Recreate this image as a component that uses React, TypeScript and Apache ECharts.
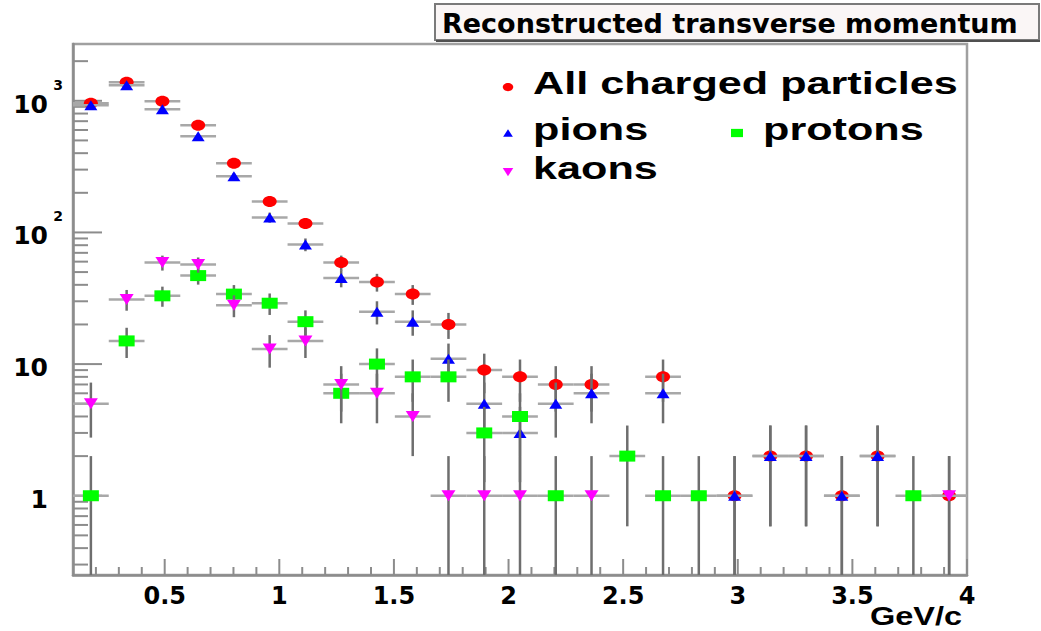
import React, { useEffect, useRef } from 'react';
import * as echarts from 'echarts';

// ---- Data (histogram: 25 bins from 0.1 to 4.0 GeV/c) ----
const binCenters = [0.178, 0.334, 0.49, 0.646, 0.802, 0.958, 1.114, 1.27, 1.426, 1.582, 1.738, 1.894, 2.05, 2.206, 2.362, 2.518, 2.674, 2.83, 2.986, 3.142, 3.298, 3.454, 3.61, 3.766, 3.922];
const binWidth = 0.156;

const allCharged = [957, 1383, 990, 652, 335, 172, 117, 59, 42, 34, 20, 9, 8, 7, 7, null, 8, null, 1, 2, 2, 1, 2, null, 1];
const pions = [925, 1313, 861, 537, 267, 130, 81, 45, 25, 21, 11, 5, 3, 5, 6, null, 6, null, 1, 2, 2, 1, 2, null, null];
const protons = [1, 15, 33, 47, 34, 29, 21, 6, 10, 8, 8, 3, 4, 1, null, 2, 1, 1, null, null, null, null, null, 1, null];
const kaons = [5, 31, 59, 57, 28, 13, 15, 7, 6, 4, 1, 1, 1, null, 1, null, null, null, null, null, null, null, null, null, 1];

const xMajorTicks = [0.5, 1, 1.5, 2, 2.5, 3, 3.5, 4];
const xMinorTicks = [0.2, 0.3, 0.4, 0.6, 0.7, 0.8, 0.9, 1.1, 1.2, 1.3, 1.4, 1.6, 1.7, 1.8, 1.9, 2.1, 2.2, 2.3, 2.4, 2.6, 2.7, 2.8, 2.9, 3.1, 3.2, 3.3, 3.4, 3.6, 3.7, 3.8, 3.9];
const yMajorTicks = [1, 10, 100, 1000];
const yMinorTicks = [0.3, 0.4, 0.5, 0.6, 0.7, 0.8, 0.9, 2, 3, 4, 5, 6, 7, 8, 9, 20, 30, 40, 50, 60, 70, 80, 90, 200, 300, 400, 500, 600, 700, 800, 900, 2000];

const X_MIN = 0.1;
const X_MAX = 4.0;
const Y_MIN = 0.25;
const Y_MAX = 2700;

const titleText = 'Reconstructed transverse momentum';
const xAxisTitle = 'GeV/c';

const particles = [
  { name: 'All charged particles', values: allCharged, color: '#ff0000', marker: 'circle' },
  { name: 'pions', values: pions, color: '#0000ff', marker: 'triangle' },
  { name: 'protons', values: protons, color: '#00ff00', marker: 'square' },
  { name: 'kaons', values: kaons, color: '#ff00ff', marker: 'invTriangle' },
];

function markerEl(kind: string, cx: number, cy: number, color: string, s: number) {
  const style = { fill: color };
  if (kind === 'circle') {
    return { type: 'ellipse', shape: { cx, cy, rx: 7 * s, ry: 5.5 * s }, style };
  }
  if (kind === 'triangle') {
    return { type: 'polygon', shape: { points: [[cx - 6.5 * s, cy + 5 * s], [cx + 6.5 * s, cy + 5 * s], [cx, cy - 5 * s]] }, style };
  }
  if (kind === 'invTriangle') {
    return { type: 'polygon', shape: { points: [[cx - 7 * s, cy - 5.5 * s], [cx + 7 * s, cy - 5.5 * s], [cx, cy + 5.5 * s]] }, style };
  }
  return { type: 'rect', shape: { x: cx - 8 * s, y: cy - 5.5 * s, width: 16 * s, height: 11 * s }, style };
}

export default function App() {
  const ref = useRef<HTMLDivElement>(null);

  useEffect(() => {
    const chart = echarts.init(ref.current as HTMLDivElement, null, { renderer: 'svg' });

    const tickData: number[][] = [];
    xMajorTicks.forEach((v) => tickData.push([v, Y_MIN, 16, 0]));
    xMinorTicks.forEach((v) => tickData.push([v, Y_MIN, 8, 0]));
    yMajorTicks.forEach((v) => tickData.push([X_MIN, v, 29, 1]));
    yMinorTicks.forEach((v) => tickData.push([X_MIN, v, 15, 1]));

    const tickSeries = {
      type: 'custom',
      name: 'ticks',
      silent: true,
      z: 1,
      data: tickData,
      encode: { x: 0, y: 1 },
      renderItem: (params: any, api: any) => {
        const p = api.coord([api.value(0), api.value(1)]);
        const len = api.value(2);
        const dir = api.value(3);
        const shape = dir === 0
          ? { x1: p[0], y1: p[1], x2: p[0], y2: p[1] - len }
          : { x1: p[0], y1: p[1], x2: p[0] + len, y2: p[1] };
        return { type: 'line', shape, style: { stroke: '#8c8c8c', lineWidth: 2 } };
      },
    };

    const dataSeries = particles.map((pt, idx) => ({
      type: 'custom',
      name: pt.name,
      z: 2 + idx,
      data: binCenters
        .map((x, i) => (pt.values[i] == null ? null : [x, pt.values[i] as number]))
        .filter((d) => d !== null),
      encode: { x: 0, y: 1 },
      renderItem: (params: any, api: any) => {
        const x = api.value(0);
        const v = api.value(1);
        const err = Math.sqrt(v);
        const c = api.coord([x, v]);
        const top = api.coord([x, v + err]);
        const cs = params.coordSys;
        const bottomPx = cs.y + cs.height;
        const lowV = v - err;
        const low = lowV > Y_MIN ? api.coord([x, lowV])[1] : bottomPx;
        const left = api.coord([x - binWidth / 2, v])[0];
        const right = api.coord([x + binWidth / 2, v])[0];
        return {
          type: 'group',
          children: [
            { type: 'line', shape: { x1: left, y1: c[1], x2: right, y2: c[1] }, style: { stroke: '#a8a8a8', lineWidth: 2.5 } },
            { type: 'line', shape: { x1: c[0], y1: top[1], x2: c[0], y2: low }, style: { stroke: '#6e6e6e', lineWidth: 2.5 } },
            markerEl(pt.marker, c[0], c[1], pt.color, 1),
          ],
        };
      },
    }));

    const legendFont = 'bold 32px "Liberation Sans", Arial, sans-serif';
    const legendRows = [
      { p: particles[0], mx: 508, my: 87, tx: 533 },
      { p: particles[1], mx: 508, my: 133, tx: 533 },
      { p: particles[2], mx: 737, my: 133, tx: 763 },
      { p: particles[3], mx: 508, my: 172, tx: 533 },
    ];
    const legendGraphics: any[] = [];
    legendRows.forEach((r) => {
      legendGraphics.push({ ...markerEl(r.p.marker, r.mx, r.my, r.p.color, 0.75), z: 100 });
      legendGraphics.push({
        type: 'text',
        x: r.tx,
        y: r.my - 4,
        scaleX: 1.35,
        z: 100,
        style: { text: r.p.name, font: legendFont, fill: '#000', align: 'left', verticalAlign: 'middle' },
      });
    });

    const option: any = {
      animation: false,
      backgroundColor: '#ffffff',
      grid: {
        left: 73,
        right: 74,
        top: 44,
        bottom: 56,
        show: true,
        borderColor: '#a0a0a0',
        borderWidth: 2.5,
        backgroundColor: 'transparent',
      },
      xAxis: {
        type: 'value',
        min: X_MIN,
        max: X_MAX,
        splitNumber: 8,
        axisLine: { show: true, onZero: false, lineStyle: { color: '#8c8c8c', width: 2.5 } },
        axisTick: { show: false },
        splitLine: { show: false },
        axisLabel: {
          showMinLabel: false,
          margin: 9,
          color: '#000',
          fontFamily: '"DejaVu Sans", sans-serif',
          fontWeight: 'bold',
          fontSize: 24,
          formatter: (v: number) => String(v),
        },
      },
      yAxis: {
        type: 'log',
        logBase: 10,
        min: Y_MIN,
        max: Y_MAX,
        axisLine: { show: true, lineStyle: { color: '#8c8c8c', width: 2.5 } },
        axisTick: { show: false },
        splitLine: { show: false },
        axisLabel: {
          showMinLabel: false,
          showMaxLabel: false,
          margin: 10,
          formatter: (v: number) => {
            const lg = Math.log10(v);
            const e = Math.round(lg);
            if (Math.abs(lg - e) > 1e-6) return '';
            const main = e === 0 ? '1' : '10';
            const sup = e >= 2 ? String(e) : ' ';
            return '{b|' + main + '}{s|' + sup + '}';
          },
          rich: {
            b: { fontFamily: '"DejaVu Sans", sans-serif', fontWeight: 'bold', fontSize: 25, color: '#000', verticalAlign: 'bottom', padding: [0, 0, 7, 0] },
            s: { fontFamily: '"DejaVu Sans", sans-serif', fontWeight: 'bold', fontSize: 14, color: '#000', verticalAlign: 'bottom', width: 13, padding: [0, 0, 32, 2] },
          },
        },
      },
      graphic: [
        {
          type: 'rect',
          z: 100,
          shape: { x: 435, y: 4, width: 604, height: 36 },
          style: { fill: '#faf6f6', stroke: '#7a7a7a', lineWidth: 2 },
        },
        {
          type: 'line',
          z: 101,
          shape: { x1: 436, y1: 41, x2: 1040, y2: 41 },
          style: { stroke: '#505050', lineWidth: 2 },
        },
        {
          type: 'text',
          z: 102,
          x: 442,
          y: 23,
          style: { text: titleText, font: 'bold 27px "DejaVu Sans", sans-serif', fill: '#000', align: 'left', verticalAlign: 'middle' },
        },
        {
          type: 'text',
          z: 102,
          x: 962,
          y: 616,
          scaleX: 1.3,
          style: { text: xAxisTitle, font: 'bold 25px "Liberation Sans", Arial, sans-serif', fill: '#000', align: 'right', verticalAlign: 'middle' },
        },
        ...legendGraphics,
      ],
      series: [tickSeries, ...dataSeries],
    };

    chart.setOption(option);
    return () => chart.dispose();
  }, []);

  return (
    <div
      ref={ref}
      style={{ position: 'fixed', left: 0, top: 0, width: 1041, height: 631, background: '#ffffff' }}
    />
  );
}
